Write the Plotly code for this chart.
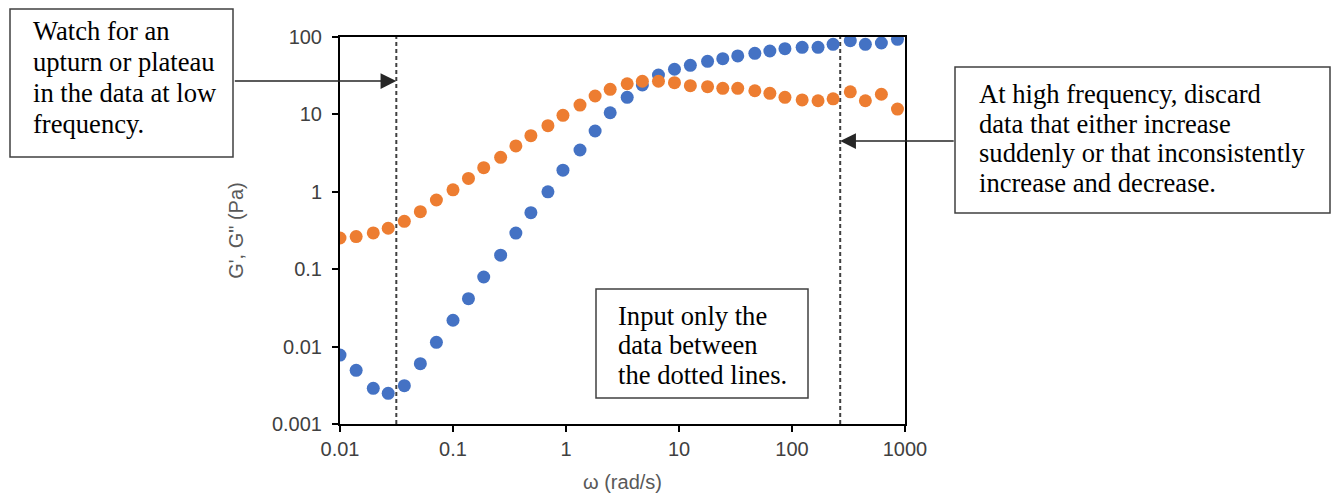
import math
import plotly.graph_objects as go

# ---- data ----
omega = [0.01, 0.0139, 0.0197, 0.0267, 0.0371, 0.0514, 0.0713, 0.1, 0.137, 0.187,
         0.264, 0.36, 0.489, 0.692, 0.94, 1.33, 1.81, 2.46, 3.48, 4.74,
         6.58, 9.12, 12.6, 17.9, 24.4, 33.1, 46.9, 63.7, 86.6, 123,
         170, 231, 328, 446, 618, 858]
g_storage = [0.00778, 0.00494, 0.00289, 0.00249, 0.00313, 0.00601, 0.01135, 0.0219, 0.0416, 0.0793,
             0.152, 0.293, 0.537, 1.0, 1.90, 3.47, 6.1, 10.5, 16.6, 24.0,
             32.3, 38.3, 43.1, 48.5, 52.5, 56.9, 61.5, 65.9, 70.6, 73.6,
             73.6, 80.5, 89.6, 80.5, 83.6, 93.3]
g_loss = [0.253, 0.264, 0.294, 0.338, 0.416, 0.553, 0.784, 1.06, 1.49, 2.05,
          2.79, 3.91, 5.31, 7.15, 9.73, 13.2, 17.3, 21.1, 24.9, 26.8,
          26.8, 25.7, 23.5, 22.8, 21.7, 21.7, 20.2, 18.7, 16.6, 15.4,
          15.0, 15.9, 19.6, 15.0, 18.2, 11.7]
cutoffs = [0.0315, 267]          # dotted lines (rad/s)
y_span = [0.001, 100]
x_ticks = [0.01, 0.1, 1, 10, 100, 1000]
x_ticktext = ["0.01", "0.1", "1", "10", "100", "1000"]
y_ticks = [0.001, 0.01, 0.1, 1, 10, 100]
y_ticktext = ["0.001", "0.01", "0.1", "1", "10", "100"]

note_left = ["Watch for an", "upturn or plateau", "in the data at low", "frequency."]
note_right = ["At high frequency, discard", "data that either increase",
              "suddenly or that inconsistently", "increase and decrease."]
note_mid = ["Input only the", "data between", "the dotted lines."]

# ---- layout geometry (pixels) ----
W, H = 1338, 497
L, R, T, B = 340, 905, 37, 424

def px(xp):
    return (xp - L) / (R - L)

def py(yp):
    return (B - yp) / (B - T)

BLUE = "#4472C4"
ORANGE = "#ED7D31"
SERIF = "Liberation Serif, Times New Roman, serif"
SANS = "Liberation Sans, Arial, sans-serif"

fig = go.Figure()

for c in cutoffs:
    fig.add_trace(go.Scatter(x=[c, c], y=y_span, mode="lines",
                             line=dict(color="#404040", width=2, dash="4px,3px"),
                             hoverinfo="skip", showlegend=False))

fig.add_trace(go.Scatter(x=omega, y=g_storage, mode="markers", name="G'",
                         marker=dict(color=BLUE, size=13)))
fig.add_trace(go.Scatter(x=omega, y=g_loss, mode="markers", name='G"',
                         marker=dict(color=ORANGE, size=13)))

axis_common = dict(type="log", showgrid=False, zeroline=False, showline=True,
                   linecolor="black", linewidth=2, mirror=True, automargin=False,
                   ticks="outside", ticklen=6, tickwidth=1.5, tickcolor="black",
                   tickfont=dict(family=SANS, size=20, color="#404040"))

fig.update_xaxes(range=[-2, 3], tickvals=x_ticks, ticktext=x_ticktext,
                 ticklabelstandoff=0,
                 title=dict(text="ω (rad/s)", font=dict(family=SANS, size=20, color="#595959"),
                            standoff=16),
                 **axis_common)
fig.update_yaxes(range=[-3, 2], tickvals=y_ticks, ticktext=y_ticktext,
                 ticklabelstandoff=6,
                 title=dict(text="G', G\" (Pa)", font=dict(family=SANS, size=20, color="#595959"),
                            standoff=23),
                 **axis_common)

# boxes
boxes = [(10, 9, 233, 157), (955, 67, 1330, 213), (596, 289, 808, 398)]
for (x0, y0, x1, y1) in boxes:
    fig.add_shape(type="rect", xref="paper", yref="paper",
                  x0=px(x0), x1=px(x1), y0=py(y1), y1=py(y0),
                  line=dict(color="#404040", width=1.5), fillcolor="white", layer="above")

def add_lines(lines, x_left, y_centers):
    for t, yc in zip(lines, y_centers):
        fig.add_annotation(text=t, xref="paper", yref="paper", x=px(x_left), y=py(yc),
                           xanchor="left", yanchor="middle", showarrow=False,
                           font=dict(family=SERIF, size=26.6, color="black"))

add_lines(note_left, 31, [31, 62, 93, 124])
add_lines(note_right, 977, [94, 124, 153, 183])
add_lines(note_mid, 616, [316, 345, 375])

# arrows
fig.add_annotation(x=math.log10(cutoffs[0]), y=py(81), xref="x", yref="paper",
                   ax=233 - 396, ay=0, text="", showarrow=True, arrowhead=2,
                   arrowsize=2.1, arrowwidth=1.5, arrowcolor="#262626", standoff=0)
fig.add_annotation(x=math.log10(cutoffs[1]), y=py(141), xref="x", yref="paper",
                   ax=955 - 840, ay=0, text="", showarrow=True, arrowhead=2,
                   arrowsize=2.1, arrowwidth=1.5, arrowcolor="#262626", standoff=0)

fig.update_layout(width=W, height=H, margin=dict(l=L, r=W - R, t=T, b=H - B),
                  paper_bgcolor="white", plot_bgcolor="white", showlegend=False)

fig.write_html("out.html")
